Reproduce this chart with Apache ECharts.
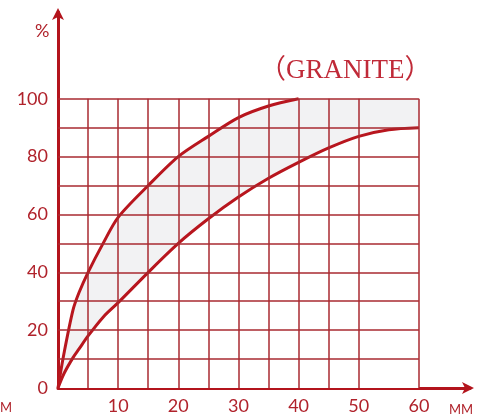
<!DOCTYPE html>
<html>
<head>
<meta charset="utf-8">
<script src="https://cdn.jsdelivr.net/npm/echarts@6/dist/echarts.min.js"></script>
<style>
  html, body { margin: 0; padding: 0; background: #fff; }
  #chart { width: 477px; height: 417px; }
</style>
</head>
<body>
<div id="chart"></div>
<script>
// 曲线采样点（mm）
const xs = [0, 1, 2.5, 3.5, 5, 7.5, 10, 15, 20, 25, 30, 35, 40, 45, 50, 55, 60];
// 上限曲线（到 40mm 达到 100%）
const upper = [0, 12, 27, 33, 40, 50, 59, 70, 80, 87, 93.5, 97.5, 100];
// 下限曲线
const lower = [0, 5, 10.5, 13.5, 18, 24.5, 29.5, 40, 50, 58.5, 66, 72.5, 78, 83, 87, 89.3, 90];
// 网格线位置（55 处没有竖线）
const gridXs = [5, 10, 15, 20, 25, 30, 35, 40, 45, 50, 60];
const gridYs = [10, 20, 30, 40, 50, 60, 70, 80, 90, 100];
const xLabels = [10, 20, 30, 40, 50, 60];
const yLabels = [0, 20, 40, 60, 80, 100];

const axisColor = '#b3141c';
const gridColor = '#a82a30';
const curveColor = '#b8161e';
const textColor = '#b0222b';

// 填充带的上沿：上限曲线，40mm 之后为 100
const bandTop = xs.map((x, i) => (i < upper.length ? upper[i] : 100));

const chart = echarts.init(document.getElementById('chart'));

const gridLines = [];
gridXs.forEach(x => gridLines.push([{ coord: [x, 0] }, { coord: [x, 100] }]));
gridYs.forEach(y => gridLines.push([{ coord: [0, y] }, { coord: [60, y] }]));

const option = {
    animation: false,
    title: {
        text: '（GRANITE）',
        left: 254,
        top: 52,
        textStyle: {
            color: '#c02a38',
            fontFamily: 'Liberation Serif, "Noto Sans CJK JP"',
            fontWeight: 'normal',
            fontSize: 27
        }
    },
    graphic: [
        {
            type: 'text',
            x: 35,
            y: 22,
            style: { text: '%', fill: textColor, font: '18px Lato' }
        },
        {
            type: 'text',
            x: -12,
            y: 401,
            style: { text: 'MM', fill: textColor, font: '13px Lato' }
        }
    ],
    grid: { left: 58, right: 7, top: 12, bottom: 29, outerBoundsMode: 'none' },
    xAxis: {
        type: 'value',
        min: 0,
        max: 68.5,
        interval: 10,
        name: 'MM',
        nameLocation: 'end',
        nameGap: -21,
        nameTextStyle: {
            color: textColor,
            fontFamily: 'Lato',
            fontSize: 13,
            verticalAlign: 'top',
            padding: [15, 0, 0, 0]
        },
        axisLine: {
            lineStyle: { color: axisColor, width: 3 },
            symbol: ['none', 'arrow'],
            symbolSize: [9, 12],
            symbolOffset: [0, 4]
        },
        axisTick: { show: false },
        splitLine: { show: false },
        axisLabel: {
            color: textColor,
            fontFamily: 'Lato',
            fontSize: 18,
            margin: 9,
            formatter: v => (xLabels.indexOf(v) >= 0 ? String(v) : '')
        }
    },
    yAxis: {
        type: 'value',
        min: 0,
        max: 130,
        interval: 20,
        axisLine: {
            lineStyle: { color: axisColor, width: 3 },
            symbol: ['none', 'arrow'],
            symbolSize: [9, 12],
            symbolOffset: [0, 4]
        },
        axisTick: { show: false },
        splitLine: { show: false },
        axisLabel: {
            color: textColor,
            fontFamily: 'Lato',
            fontSize: 18,
            margin: 10,
            formatter: v => (yLabels.indexOf(v) >= 0 ? String(v) : '')
        }
    },
    series: [
        {
            // 填充带：先画上沿以下的灰色
            type: 'line',
            data: xs.map((x, i) => [x, bandTop[i]]),
            smooth: 0.3,
            showSymbol: false,
            lineStyle: { width: 0 },
            areaStyle: { color: '#f2f2f3', opacity: 1 },
            silent: true,
            z: 1
        },
        {
            // 再用白色盖住下限曲线以下
            type: 'line',
            data: xs.map((x, i) => [x, lower[i]]),
            smooth: 0.3,
            showSymbol: false,
            lineStyle: { width: 0 },
            areaStyle: { color: '#ffffff', opacity: 1 },
            silent: true,
            z: 1
        },
        {
            // 网格线
            type: 'line',
            data: [],
            silent: true,
            z: 2,
            markLine: {
                silent: true,
                symbol: ['none', 'none'],
                label: { show: false },
                lineStyle: { color: gridColor, width: 1.5, type: 'solid' },
                data: gridLines
            }
        },
        {
            type: 'line',
            data: upper.map((y, i) => [xs[i], y]),
            smooth: 0.3,
            showSymbol: false,
            lineStyle: { color: curveColor, width: 3 },
            z: 3
        },
        {
            type: 'line',
            data: lower.map((y, i) => [xs[i], y]),
            smooth: 0.3,
            showSymbol: false,
            lineStyle: { color: curveColor, width: 3 },
            z: 3
        }
    ]
};

chart.setOption(option);

window.addEventListener('resize', function() {
    chart.resize();
});
</script>
</body>
</html>
